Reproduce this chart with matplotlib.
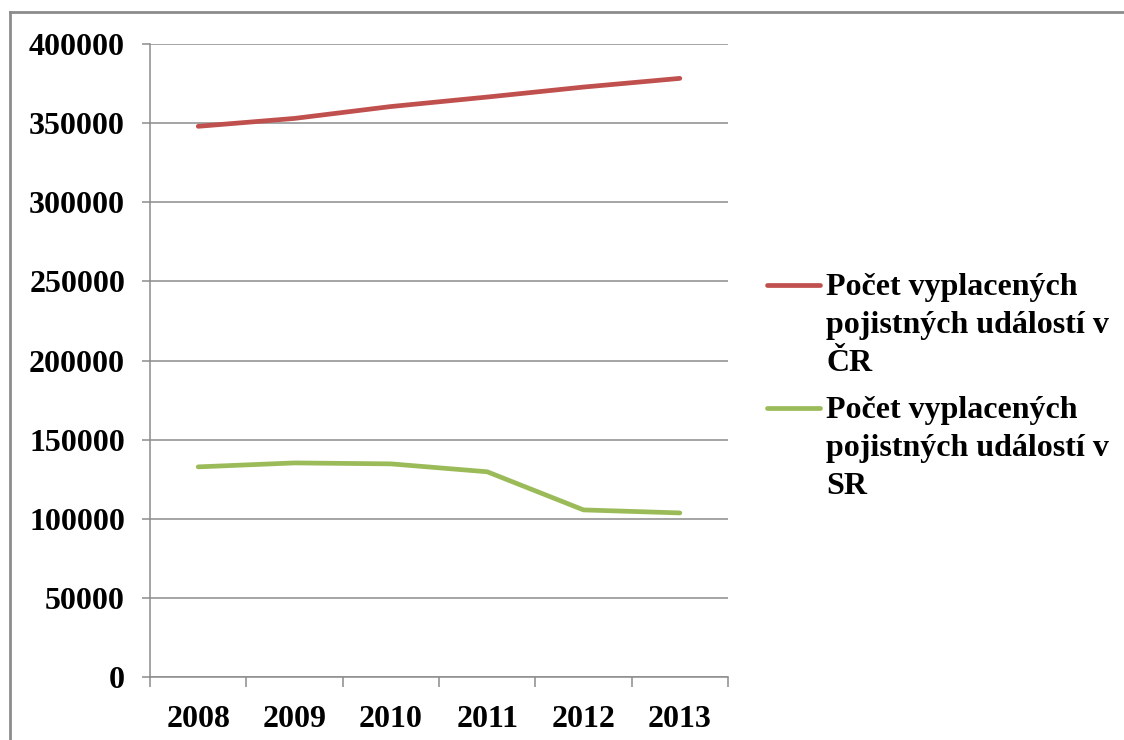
import matplotlib.pyplot as plt
from matplotlib.lines import Line2D

years = ['2008', '2009', '2010', '2011', '2012', '2013']
cr_values = [348000, 353000, 360500, 366500, 372800, 378300]
sr_values = [132800, 135300, 134700, 129700, 105600, 103700]
labels = ['Počet vyplacených\npojistných událostí v\nČR',
          'Počet vyplacených\npojistných událostí v\nSR']
colors = ['#C0504D', '#9BBB59']

plt.rcParams['font.family'] = ['Liberation Serif', 'DejaVu Serif']
plt.rcParams['font.weight'] = 'bold'

fig = plt.figure(figsize=(11.24, 7.4), dpi=100)
ax = fig.add_axes([0.1335, 0.0851, 0.5142, 0.8554])

x = list(range(len(years)))
ax.plot(x, cr_values, color=colors[0], lw=3.4, solid_capstyle='round')
ax.plot(x, sr_values, color=colors[1], lw=3.4, solid_capstyle='round')

ax.set_xlim(-0.5, len(years) - 0.5)
ax.set_ylim(0, 400000)
ax.set_yticks(range(0, 400001, 50000))
ax.set_yticklabels([str(v) for v in range(0, 400001, 50000)])
ax.set_xticks(x)
ax.set_xticklabels(years)
ax.set_xticks([i - 0.5 for i in range(len(years) + 1)], minor=True)

grid_c = '#8c8c8c'
ax.yaxis.grid(True, color=grid_c, lw=1.1)
ax.set_axisbelow(True)
for s in ['top', 'right']:
    ax.spines[s].set_visible(False)
for s in ['left', 'bottom']:
    ax.spines[s].set_color(grid_c)
    ax.spines[s].set_linewidth(1.1)

ax.tick_params(axis='y', length=6, color=grid_c, width=1.1, pad=12, labelsize=23)
ax.tick_params(axis='x', which='major', length=0, pad=20, labelsize=23)
ax.tick_params(axis='x', which='minor', length=7, color=grid_c, width=1.1)

# legend drawn by hand so the line sits on the first text line
leg_y = [1 - 285 / 740, 1 - 408 / 740]
for lab, c, yy in zip(labels, colors, leg_y):
    fig.add_artist(Line2D([767 / 1124, 820 / 1124], [yy, yy], color=c, lw=3.4,
                          solid_capstyle='round'))
    fig.text(826 / 1124, yy + 12 / 740, lab, fontsize=23, fontweight='bold',
             va='top', ha='left', linespacing=1.42)

# outer frame (left and top edges visible)
fig.add_artist(Line2D([10 / 1124, 10 / 1124], [0, 1 - 12 / 740], color='#8c8c8c', lw=2))
fig.add_artist(Line2D([10 / 1124, 1], [1 - 12 / 740, 1 - 12 / 740], color='#8c8c8c', lw=2))

fig.savefig('out.png', dpi=100)
